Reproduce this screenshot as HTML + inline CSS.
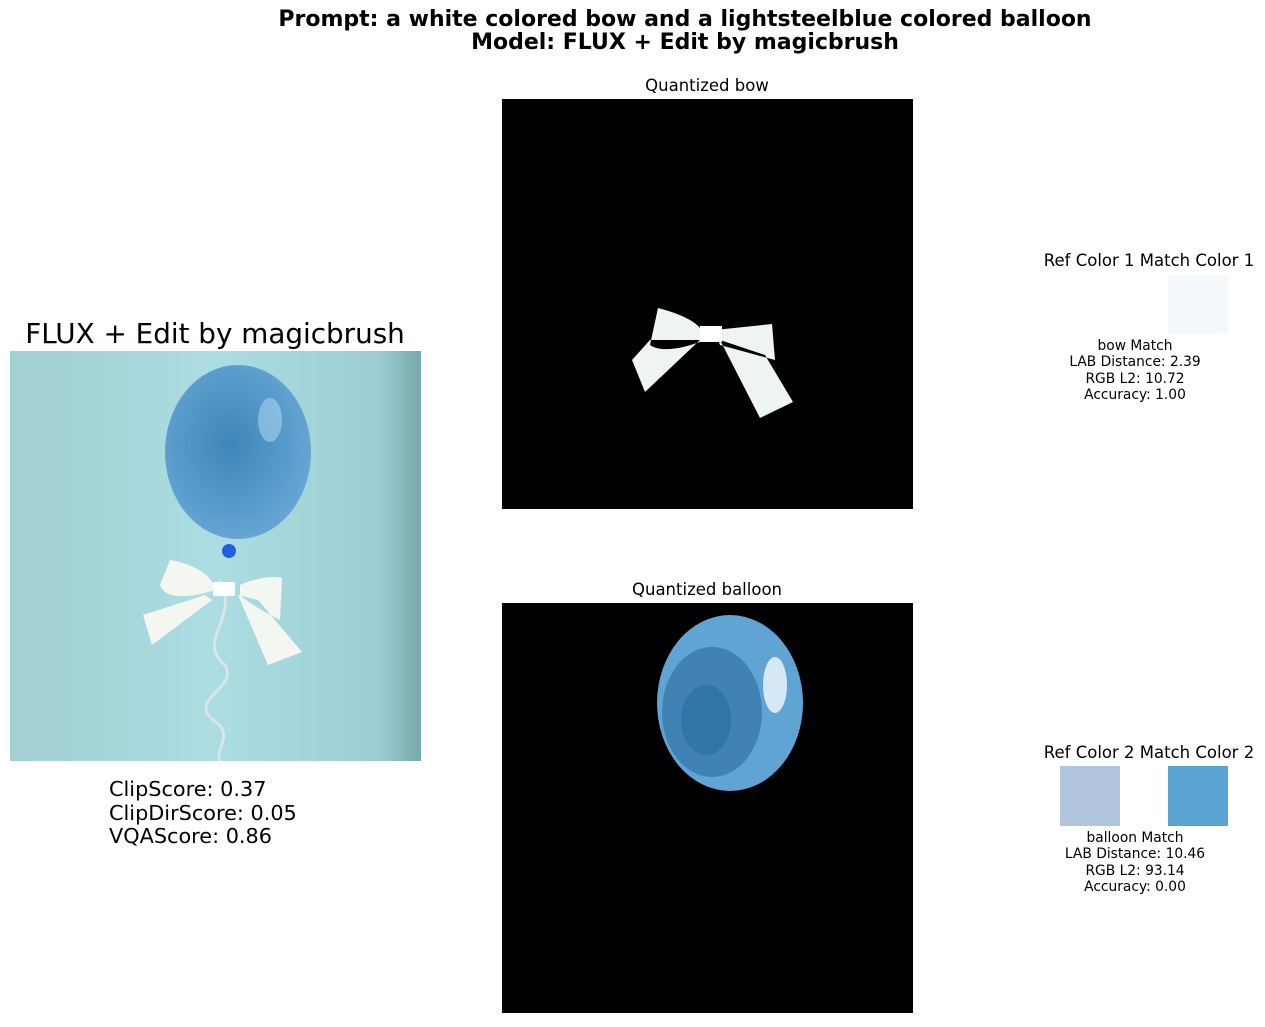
<!DOCTYPE html>
<html><head><meta charset="utf-8"><style>
body{margin:0;background:#fff;width:1265px;height:1023px;overflow:hidden;font-family:"DejaVu Sans","Liberation Sans",sans-serif}
svg text{font-family:"DejaVu Sans","Liberation Sans",sans-serif}
</style></head><body>
<svg width="1265" height="1023" viewBox="0 0 1265 1023">
<defs>
<linearGradient id="bg" x1="0" y1="0" x2="1" y2="0"><stop offset="0" stop-color="#a2cfd2"/><stop offset="0.5" stop-color="#abdde2"/><stop offset="0.9" stop-color="#9ccdd2"/><stop offset="1" stop-color="#77a9ab"/></linearGradient>
<radialGradient id="bal" cx="0.45" cy="0.45" r="0.6"><stop offset="0" stop-color="#3d86b9"/><stop offset="0.7" stop-color="#5a9dcc"/><stop offset="1" stop-color="#6aa8d6"/></radialGradient>
</defs>
<g font-weight="bold" font-size="22" text-anchor="middle" fill="#000">
<text x="685" y="26">Prompt: a white colored bow and a lightsteelblue colored balloon</text>
<text x="685" y="49">Model: FLUX + Edit by magicbrush</text>
</g>
<text x="215" y="343" font-size="27.8" text-anchor="middle">FLUX + Edit by magicbrush</text>
<g>
<rect x="10" y="351" width="411" height="410" fill="url(#bg)"/>
<ellipse cx="238" cy="452" rx="73" ry="87" fill="url(#bal)"/>
<ellipse cx="270" cy="420" rx="12" ry="22" fill="#a9d2ee" opacity="0.6"/>
<circle cx="229" cy="551" r="7" fill="#1f5fe0"/>
<path d="M220 580 C240 620 195 640 225 665 C240 690 180 700 220 725 C230 740 215 750 220 761" stroke="#d8e6ea" stroke-width="3" fill="none"/>
<path d="M170 560 C200 565 215 580 215 590 C190 598 165 600 160 585 Z M205 595 L143 615 L152 645 L212 600 Z M240 585 C255 578 275 575 282 578 L280 620 C260 610 245 600 240 595 Z M238 595 L268 665 L302 652 L258 600 Z" fill="#f4f6f2"/>
<rect x="213" y="582" width="22" height="14" fill="#fff"/>
</g>
<g font-size="20.8" fill="#000">
<text x="109" y="796">ClipScore: 0.37</text>
<text x="109" y="820">ClipDirScore: 0.05</text>
<text x="109" y="843">VQAScore: 0.86</text>
</g>
<text x="707" y="91" font-size="16.5" text-anchor="middle">Quantized bow</text>
<g>
<rect x="502" y="99" width="411" height="410" fill="#000"/>
<path d="M658 308 C685 315 705 325 705 340 C680 350 660 352 650 345 Z M700 340 L650 340 L632 360 L645 392 Z M715 330 L772 324 L775 360 L720 345 Z M720 340 L760 418 L793 402 L765 355 Z" fill="#eef4f3"/>
<rect x="700" y="326" width="22" height="16" fill="#fff"/>
</g>
<text x="707" y="595" font-size="16.5" text-anchor="middle">Quantized balloon</text>
<g>
<rect x="502" y="603" width="411" height="410" fill="#000"/>
<ellipse cx="730" cy="703" rx="73" ry="88" fill="#5fa4d3"/>
<ellipse cx="712" cy="712" rx="50" ry="65" fill="#3f82b3"/>
<ellipse cx="706" cy="720" rx="25" ry="35" fill="#2f75a8"/>
<ellipse cx="775" cy="685" rx="12" ry="28" fill="#d4e8f5"/>
</g>
<text x="1149" y="266" font-size="16.5" text-anchor="middle">Ref Color 1 Match Color 1</text>
<rect x="1060" y="275" width="60" height="59" fill="#ffffff"/>
<rect x="1168" y="275" width="60" height="59" fill="#f5f9fc"/>
<g font-size="13.8" text-anchor="middle">
<text x="1135" y="350">bow Match</text><text x="1135" y="366">LAB Distance: 2.39</text><text x="1135" y="383">RGB L2: 10.72</text><text x="1135" y="399">Accuracy: 1.00</text>
</g>
<text x="1149" y="758" font-size="16.5" text-anchor="middle">Ref Color 2 Match Color 2</text>
<rect x="1060" y="766" width="60" height="60" fill="#b0c4de"/>
<rect x="1168" y="766" width="60" height="60" fill="#5ba3d0"/>
<g font-size="13.8" text-anchor="middle">
<text x="1135" y="842">balloon Match</text><text x="1135" y="858">LAB Distance: 10.46</text><text x="1135" y="875">RGB L2: 93.14</text><text x="1135" y="891">Accuracy: 0.00</text>
</g>
</svg>
</body></html>
